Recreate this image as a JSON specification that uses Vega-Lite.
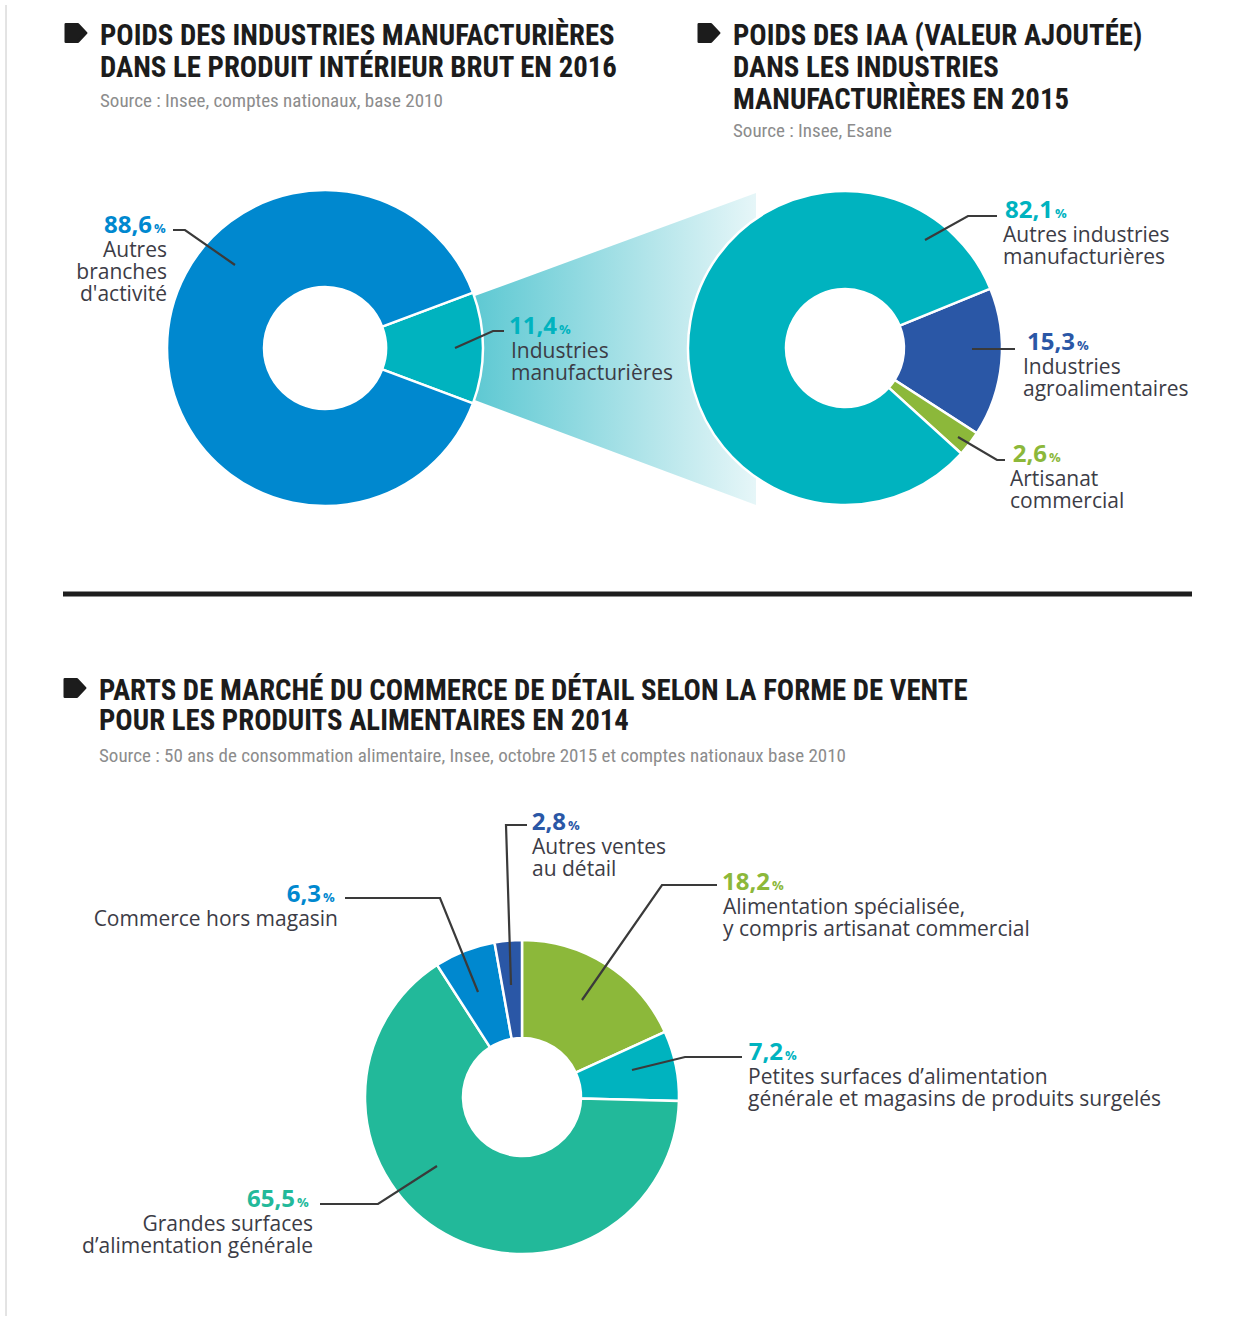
{
  "$schema": "https://vega.github.io/schema/vega-lite/v6.json",
  "width": 1249,
  "height": 1319,
  "autosize": {"type": "fit", "contains": "padding"},
  "padding": 0,
  "background": "white",
  "config": {"view": {"stroke": null}},
  "datasets": {
    "d1": [
      {"cat": "Industries manufacturières", "value": 11.4, "rank": 1},
      {"cat": "Autres branches d'activité", "value": 88.6, "rank": 2}
    ],
    "d2": [
      {"cat": "Industries agroalimentaires", "value": 15.3, "rank": 1},
      {"cat": "Artisanat commercial", "value": 2.6, "rank": 2},
      {"cat": "Autres industries manufacturières", "value": 82.1, "rank": 3}
    ],
    "d3": [
      {"cat": "Alimentation spécialisée, y compris artisanat commercial", "value": 18.2, "rank": 1},
      {"cat": "Petites surfaces d’alimentation générale et magasins de produits surgelés", "value": 7.2, "rank": 2},
      {"cat": "Grandes surfaces d’alimentation générale", "value": 65.5, "rank": 3},
      {"cat": "Commerce hors magasin", "value": 6.3, "rank": 4},
      {"cat": "Autres ventes au détail", "value": 2.8, "rank": 5}
    ],
    "labels": [
      {"cat": "Autres branches d'activité", "num": "88,6", "desc": "Autres\nbranches\nd'activité", "side": "L", "xp": 154, "xd": 167, "y": 233},
      {"cat": "Industries manufacturières", "num": "11,4", "desc": "Industries\nmanufacturières", "side": "R", "xp": 559, "xd": 511, "y": 334},
      {"cat": "Autres industries manufacturières", "num": "82,1", "desc": "Autres industries\nmanufacturières", "side": "R", "xp": 1055, "xd": 1003, "y": 218},
      {"cat": "Industries agroalimentaires", "num": "15,3", "desc": "Industries\nagroalimentaires", "side": "R", "xp": 1077, "xd": 1023, "y": 350},
      {"cat": "Artisanat commercial", "num": "2,6", "desc": "Artisanat\ncommercial", "side": "R", "xp": 1049, "xd": 1010, "y": 462},
      {"cat": "Autres ventes au détail", "num": "2,8", "desc": "Autres ventes\nau détail", "side": "R", "xp": 568, "xd": 532, "y": 830},
      {"cat": "Commerce hors magasin", "num": "6,3", "desc": "Commerce hors magasin", "side": "L", "xp": 323, "xd": 338, "y": 902},
      {"cat": "Alimentation spécialisée, y compris artisanat commercial", "num": "18,2", "desc": "Alimentation spécialisée,\ny compris artisanat commercial", "side": "R", "xp": 772, "xd": 723, "y": 890},
      {"cat": "Petites surfaces d’alimentation générale et magasins de produits surgelés", "num": "7,2", "desc": "Petites surfaces d’alimentation\ngénérale et magasins de produits surgelés", "side": "R", "xp": 785, "xd": 748, "y": 1060},
      {"cat": "Grandes surfaces d’alimentation générale", "num": "65,5", "desc": "Grandes surfaces\nd’alimentation générale", "side": "L", "xp": 297, "xd": 313, "y": 1207}
    ],
    "leaders": [
      {"id": 1, "seq": 1, "x": 173, "y": 230}, {"id": 1, "seq": 2, "x": 185, "y": 230}, {"id": 1, "seq": 3, "x": 235, "y": 265},
      {"id": 2, "seq": 1, "x": 455, "y": 348}, {"id": 2, "seq": 2, "x": 493, "y": 331}, {"id": 2, "seq": 3, "x": 504, "y": 331},
      {"id": 3, "seq": 1, "x": 925, "y": 240}, {"id": 3, "seq": 2, "x": 968, "y": 216}, {"id": 3, "seq": 3, "x": 997, "y": 216},
      {"id": 4, "seq": 1, "x": 972, "y": 349}, {"id": 4, "seq": 2, "x": 1015, "y": 349},
      {"id": 5, "seq": 1, "x": 958, "y": 437}, {"id": 5, "seq": 2, "x": 997, "y": 460}, {"id": 5, "seq": 3, "x": 1005, "y": 460},
      {"id": 6, "seq": 1, "x": 527, "y": 825}, {"id": 6, "seq": 2, "x": 506, "y": 825}, {"id": 6, "seq": 3, "x": 511, "y": 985},
      {"id": 7, "seq": 1, "x": 345, "y": 898}, {"id": 7, "seq": 2, "x": 440, "y": 898}, {"id": 7, "seq": 3, "x": 478, "y": 992},
      {"id": 8, "seq": 1, "x": 717, "y": 885}, {"id": 8, "seq": 2, "x": 662, "y": 885}, {"id": 8, "seq": 3, "x": 582, "y": 1000},
      {"id": 9, "seq": 1, "x": 742, "y": 1057}, {"id": 9, "seq": 2, "x": 685, "y": 1057}, {"id": 9, "seq": 3, "x": 632, "y": 1070},
      {"id": 10, "seq": 1, "x": 320, "y": 1204}, {"id": 10, "seq": 2, "x": 378, "y": 1204}, {"id": 10, "seq": 3, "x": 437, "y": 1166}
    ],
    "titles": [
      {"x": 100, "y": 45, "text": "POIDS DES INDUSTRIES MANUFACTURIÈRES"},
      {"x": 100, "y": 77, "text": "DANS LE PRODUIT INTÉRIEUR BRUT EN 2016"},
      {"x": 733, "y": 45, "text": "POIDS DES IAA (VALEUR AJOUTÉE)"},
      {"x": 733, "y": 77, "text": "DANS LES INDUSTRIES"},
      {"x": 733, "y": 109, "text": "MANUFACTURIÈRES EN 2015"},
      {"x": 99, "y": 700, "text": "PARTS DE MARCHÉ DU COMMERCE DE DÉTAIL SELON LA FORME DE VENTE"},
      {"x": 99, "y": 730, "text": "POUR LES PRODUITS ALIMENTAIRES EN 2014"}
    ],
    "sources": [
      {"x": 100, "y": 107, "text": "Source : Insee, comptes nationaux, base 2010"},
      {"x": 733, "y": 137, "text": "Source : Insee, Esane"},
      {"x": 99, "y": 762, "text": "Source : 50 ans de consommation alimentaire, Insee, octobre 2015 et comptes nationaux base 2010"}
    ],
    "bullets": [
      {"x": 76, "y": 33},
      {"x": 709, "y": 33},
      {"x": 75, "y": 688}
    ],
    "funnel": [
      {"x": 470, "y": 297.8, "y2": 398.2},
      {"x": 756, "y": 193, "y2": 505}
    ],
    "divider": [
      {"x": 63, "x2": 1192, "y": 594}
    ],
    "frame": [
      {"x": 6, "y": 5, "y2": 1316}
    ]
  },
  "layer": [
    {
      "data": {"name": "frame"},
      "mark": {"type": "rule", "stroke": "#c8c8c8", "strokeWidth": 1},
      "encoding": {
        "x": {"field": "x", "type": "quantitative", "scale": {"domain": [0, 1249], "nice": false, "zero": false}, "axis": null},
        "y": {"field": "y", "type": "quantitative", "scale": {"domain": [0, 1319], "nice": false, "zero": false, "reverse": true}, "axis": null},
        "y2": {"field": "y2"}
      }
    },
    {
      "data": {"name": "divider"},
      "mark": {"type": "rule", "stroke": "#1e1e1e", "strokeWidth": 5},
      "encoding": {
        "x": {"field": "x", "type": "quantitative", "scale": {"domain": [0, 1249], "nice": false, "zero": false}, "axis": null},
        "x2": {"field": "x2"},
        "y": {"field": "y", "type": "quantitative", "scale": {"domain": [0, 1319], "nice": false, "zero": false, "reverse": true}, "axis": null}
      }
    },
    {
      "data": {"name": "funnel"},
      "mark": {
        "type": "area",
        "fill": {"gradient": "linear", "x1": 0, "y1": 0, "x2": 1, "y2": 0, "stops": [{"offset": 0, "color": "#5cc8d2"}, {"offset": 1, "color": "#e6f6f8"}]},
        "fillOpacity": 1
      },
      "encoding": {
        "x": {"field": "x", "type": "quantitative", "scale": {"domain": [0, 1249], "nice": false, "zero": false}, "axis": null},
        "y": {"field": "y", "type": "quantitative", "scale": {"domain": [0, 1319], "nice": false, "zero": false, "reverse": true}, "axis": null},
        "y2": {"field": "y2"}
      }
    },
    {
      "data": {"name": "d1"},
      "mark": {"type": "arc", "innerRadius": 61, "outerRadius": 158, "stroke": "white", "strokeWidth": 2.5},
      "encoding": {
        "x": {"datum": 325, "type": "quantitative", "scale": {"domain": [0, 1249], "nice": false, "zero": false}, "axis": null},
        "y": {"datum": 348, "type": "quantitative", "scale": {"domain": [0, 1319], "nice": false, "zero": false, "reverse": true}, "axis": null},
        "theta": {"field": "value", "type": "quantitative", "stack": true, "scale": {"range": [1.2126, 7.4958]}},
        "order": {"field": "rank", "type": "quantitative"},
        "color": {"field": "cat", "type": "nominal", "legend": null, "scale": {"domain": ["Autres branches d'activité", "Industries manufacturières", "Autres industries manufacturières", "Industries agroalimentaires", "Artisanat commercial", "Alimentation spécialisée, y compris artisanat commercial", "Petites surfaces d’alimentation générale et magasins de produits surgelés", "Grandes surfaces d’alimentation générale", "Commerce hors magasin", "Autres ventes au détail"], "range": ["#0088cf", "#00b3bf", "#00b3bf", "#2a57a6", "#8cb83a", "#8cb83a", "#00b3bf", "#22b99a", "#0088cf", "#2a57a6"]}}
      }
    },
    {
      "data": {"name": "d2"},
      "mark": {"type": "arc", "innerRadius": 59, "outerRadius": 157, "stroke": "white", "strokeWidth": 2.5},
      "encoding": {
        "x": {"datum": 845, "type": "quantitative", "scale": {"domain": [0, 1249], "nice": false, "zero": false}, "axis": null},
        "y": {"datum": 348, "type": "quantitative", "scale": {"domain": [0, 1319], "nice": false, "zero": false, "reverse": true}, "axis": null},
        "theta": {"field": "value", "type": "quantitative", "stack": true, "scale": {"range": [1.1833, 7.4665]}},
        "order": {"field": "rank", "type": "quantitative"},
        "color": {"field": "cat", "type": "nominal", "legend": null, "scale": {"domain": ["Autres branches d'activité", "Industries manufacturières", "Autres industries manufacturières", "Industries agroalimentaires", "Artisanat commercial", "Alimentation spécialisée, y compris artisanat commercial", "Petites surfaces d’alimentation générale et magasins de produits surgelés", "Grandes surfaces d’alimentation générale", "Commerce hors magasin", "Autres ventes au détail"], "range": ["#0088cf", "#00b3bf", "#00b3bf", "#2a57a6", "#8cb83a", "#8cb83a", "#00b3bf", "#22b99a", "#0088cf", "#2a57a6"]}}
      }
    },
    {
      "data": {"name": "d3"},
      "mark": {"type": "arc", "innerRadius": 59, "outerRadius": 157, "stroke": "white", "strokeWidth": 2.5},
      "encoding": {
        "x": {"datum": 522, "type": "quantitative", "scale": {"domain": [0, 1249], "nice": false, "zero": false}, "axis": null},
        "y": {"datum": 1097, "type": "quantitative", "scale": {"domain": [0, 1319], "nice": false, "zero": false, "reverse": true}, "axis": null},
        "theta": {"field": "value", "type": "quantitative", "stack": true, "scale": {"range": [0, 6.2832]}},
        "order": {"field": "rank", "type": "quantitative"},
        "color": {"field": "cat", "type": "nominal", "legend": null, "scale": {"domain": ["Autres branches d'activité", "Industries manufacturières", "Autres industries manufacturières", "Industries agroalimentaires", "Artisanat commercial", "Alimentation spécialisée, y compris artisanat commercial", "Petites surfaces d’alimentation générale et magasins de produits surgelés", "Grandes surfaces d’alimentation générale", "Commerce hors magasin", "Autres ventes au détail"], "range": ["#0088cf", "#00b3bf", "#00b3bf", "#2a57a6", "#8cb83a", "#8cb83a", "#00b3bf", "#22b99a", "#0088cf", "#2a57a6"]}}
      }
    },
    {
      "data": {"name": "leaders"},
      "mark": {"type": "line", "stroke": "#3a3a3a", "strokeWidth": 2.2, "strokeJoin": "miter"},
      "encoding": {
        "x": {"field": "x", "type": "quantitative", "scale": {"domain": [0, 1249], "nice": false, "zero": false}, "axis": null},
        "y": {"field": "y", "type": "quantitative", "scale": {"domain": [0, 1319], "nice": false, "zero": false, "reverse": true}, "axis": null},
        "detail": {"field": "id", "type": "nominal"},
        "order": {"field": "seq", "type": "quantitative"}
      }
    },
    {
      "data": {"name": "bullets"},
      "mark": {"type": "point", "shape": "M-1,-0.85L0.2,-0.85L1,0L0.2,0.85L-1,0.85Z", "filled": true, "size": 420, "fill": "#1c1c1c", "stroke": "#1c1c1c", "strokeWidth": 2.5, "strokeJoin": "round", "opacity": 1},
      "encoding": {
        "x": {"field": "x", "type": "quantitative", "scale": {"domain": [0, 1249], "nice": false, "zero": false}, "axis": null},
        "y": {"field": "y", "type": "quantitative", "scale": {"domain": [0, 1319], "nice": false, "zero": false, "reverse": true}, "axis": null}
      }
    },
    {
      "data": {"name": "titles"},
      "mark": {"type": "text", "align": "left", "baseline": "alphabetic", "font": "Roboto Condensed, Liberation Sans Narrow, DejaVu Sans Condensed, Open Sans, sans-serif", "fontWeight": "bold", "fontSize": 28.8, "fill": "#1c1c1c"},
      "encoding": {
        "x": {"field": "x", "type": "quantitative", "scale": {"domain": [0, 1249], "nice": false, "zero": false}, "axis": null},
        "y": {"field": "y", "type": "quantitative", "scale": {"domain": [0, 1319], "nice": false, "zero": false, "reverse": true}, "axis": null},
        "text": {"field": "text"}
      }
    },
    {
      "data": {"name": "sources"},
      "mark": {"type": "text", "align": "left", "baseline": "alphabetic", "font": "Roboto Condensed, Liberation Sans Narrow, DejaVu Sans Condensed, Open Sans, sans-serif", "fontSize": 19, "fill": "#8c8c8c"},
      "encoding": {
        "x": {"field": "x", "type": "quantitative", "scale": {"domain": [0, 1249], "nice": false, "zero": false}, "axis": null},
        "y": {"field": "y", "type": "quantitative", "scale": {"domain": [0, 1319], "nice": false, "zero": false, "reverse": true}, "axis": null},
        "text": {"field": "text"}
      }
    },
    {
      "data": {"name": "labels"},
      "mark": {"type": "text", "align": "right", "baseline": "alphabetic", "dx": -2, "font": "Open Sans", "fontWeight": "bold", "fontSize": 24},
      "encoding": {
        "x": {"field": "xp", "type": "quantitative", "scale": {"domain": [0, 1249], "nice": false, "zero": false}, "axis": null},
        "y": {"field": "y", "type": "quantitative", "scale": {"domain": [0, 1319], "nice": false, "zero": false, "reverse": true}, "axis": null},
        "text": {"field": "num"},
        "color": {"field": "cat", "type": "nominal", "legend": null, "scale": {"domain": ["Autres branches d'activité", "Industries manufacturières", "Autres industries manufacturières", "Industries agroalimentaires", "Artisanat commercial", "Alimentation spécialisée, y compris artisanat commercial", "Petites surfaces d’alimentation générale et magasins de produits surgelés", "Grandes surfaces d’alimentation générale", "Commerce hors magasin", "Autres ventes au détail"], "range": ["#0088cf", "#00b3bf", "#00b3bf", "#2a57a6", "#8cb83a", "#8cb83a", "#00b3bf", "#22b99a", "#0088cf", "#2a57a6"]}}
      }
    },
    {
      "data": {"name": "labels"},
      "mark": {"type": "text", "align": "left", "baseline": "alphabetic", "font": "Open Sans", "fontWeight": "bold", "fontSize": 13},
      "encoding": {
        "x": {"field": "xp", "type": "quantitative", "scale": {"domain": [0, 1249], "nice": false, "zero": false}, "axis": null},
        "y": {"field": "y", "type": "quantitative", "scale": {"domain": [0, 1319], "nice": false, "zero": false, "reverse": true}, "axis": null},
        "text": {"value": "%"},
        "color": {"field": "cat", "type": "nominal", "legend": null, "scale": {"domain": ["Autres branches d'activité", "Industries manufacturières", "Autres industries manufacturières", "Industries agroalimentaires", "Artisanat commercial", "Alimentation spécialisée, y compris artisanat commercial", "Petites surfaces d’alimentation générale et magasins de produits surgelés", "Grandes surfaces d’alimentation générale", "Commerce hors magasin", "Autres ventes au détail"], "range": ["#0088cf", "#00b3bf", "#00b3bf", "#2a57a6", "#8cb83a", "#8cb83a", "#00b3bf", "#22b99a", "#0088cf", "#2a57a6"]}}
      }
    },
    {
      "data": {"name": "labels"},
      "transform": [{"filter": "datum.side === 'R'"}],
      "mark": {"type": "text", "align": "left", "baseline": "alphabetic", "dy": 24, "lineBreak": "\n", "lineHeight": 22, "font": "Open Sans", "fontSize": 21, "fill": "#3c3c46"},
      "encoding": {
        "x": {"field": "xd", "type": "quantitative", "scale": {"domain": [0, 1249], "nice": false, "zero": false}, "axis": null},
        "y": {"field": "y", "type": "quantitative", "scale": {"domain": [0, 1319], "nice": false, "zero": false, "reverse": true}, "axis": null},
        "text": {"field": "desc"}
      }
    },
    {
      "data": {"name": "labels"},
      "transform": [{"filter": "datum.side === 'L'"}],
      "mark": {"type": "text", "align": "right", "baseline": "alphabetic", "dy": 24, "lineBreak": "\n", "lineHeight": 22, "font": "Open Sans", "fontSize": 21, "fill": "#3c3c46"},
      "encoding": {
        "x": {"field": "xd", "type": "quantitative", "scale": {"domain": [0, 1249], "nice": false, "zero": false}, "axis": null},
        "y": {"field": "y", "type": "quantitative", "scale": {"domain": [0, 1319], "nice": false, "zero": false, "reverse": true}, "axis": null},
        "text": {"field": "desc"}
      }
    }
  ],
  "resolve": {"scale": {"theta": "independent"}}
}
